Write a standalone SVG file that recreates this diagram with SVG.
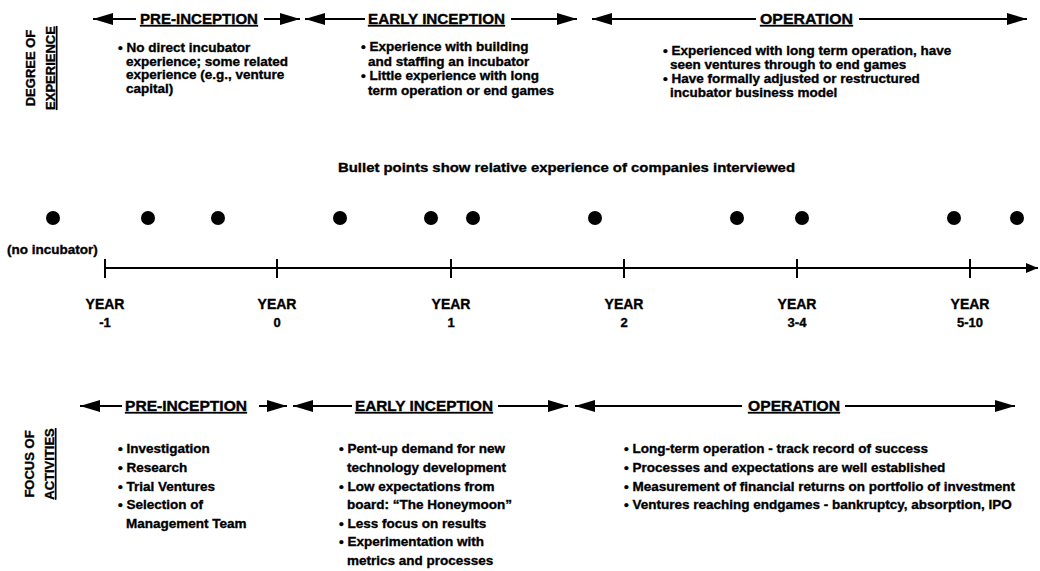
<svg xmlns="http://www.w3.org/2000/svg" width="1040" height="571" viewBox="0 0 1040 571">
  <style>
    text { font-family: "Liberation Sans", Arial, sans-serif; font-weight: bold; fill: #000; stroke: #000; stroke-width: 0.35px; }
    .side { font-size: 13px; text-anchor: middle; }
    .ul { text-decoration: underline; }
    .phase { font-size: 14.5px; text-decoration: underline; }
    .bt { font-size: 13.5px; }
    .yr { font-size: 14px; text-anchor: middle; }
    .num { font-size: 13px; text-anchor: middle; }
    .note { font-size: 13.5px; }
    .span { stroke: #000; stroke-width: 2; fill: none; marker-end: url(#head); }
    .axis { stroke: #000; stroke-width: 2; fill: none; }
    .dot { fill: #000; }
  </style>
  <defs>
    <marker id="head" markerUnits="strokeWidth" markerWidth="10" markerHeight="6" refX="10" refY="3" orient="auto">
      <path d="M0,0 L10,3 L0,6 z" fill="#000"/>
    </marker>
    <marker id="axishead" markerUnits="strokeWidth" markerWidth="6" markerHeight="5" refX="6" refY="2.5" orient="auto">
      <path d="M0,0 L6,2.5 L0,5 z" fill="#000"/>
    </marker>
  </defs>

  <!-- side captions -->
  <g id="caption-experience">
    <text class="side" transform="translate(35,68) rotate(-90)">DEGREE OF</text>
    <text class="side ul" transform="translate(55,68) rotate(-90)">EXPERIENCE</text>
  </g>
  <g id="caption-activities">
    <text class="side" transform="translate(34,464) rotate(-90)">FOCUS OF</text>
    <text class="side ul" transform="translate(54,464) rotate(-90)">ACTIVITIES</text>
  </g>

  <!-- phase spans and the year axis -->
  <g id="connectors">
    <!-- experience row -->
    <line class="span" x1="136" y1="19" x2="93" y2="19"/>
    <line class="span" x1="264" y1="19" x2="300" y2="19"/>
    <line class="span" x1="365" y1="19" x2="305" y2="19"/>
    <line class="span" x1="511" y1="19" x2="577" y2="19"/>
    <line class="span" x1="756" y1="19" x2="592" y2="19"/>
    <line class="span" x1="859" y1="19" x2="1027" y2="19"/>
    <!-- activities row -->
    <line class="span" x1="122" y1="406" x2="80" y2="406"/>
    <line class="span" x1="259" y1="406" x2="287" y2="406"/>
    <line class="span" x1="352" y1="406" x2="293" y2="406"/>
    <line class="span" x1="498" y1="406" x2="568" y2="406"/>
    <line class="span" x1="742" y1="406" x2="575" y2="406"/>
    <line class="span" x1="845" y1="406" x2="1015" y2="406"/>
    <!-- year axis -->
    <line class="axis" x1="105" y1="268" x2="1038" y2="268" marker-end="url(#axishead)"/>
    <path class="axis" d="M105,259 V278 M277,259 V278 M451,259 V278 M624,259 V278 M797,259 V278 M970,259 V278"/>
  </g>

  <!-- phase names -->
  <g id="phase-pre-top"><text class="phase" x="140" y="24" textLength="118" lengthAdjust="spacingAndGlyphs">PRE-INCEPTION</text></g>
  <g id="phase-early-top"><text class="phase" x="368" y="24" textLength="137" lengthAdjust="spacingAndGlyphs">EARLY INCEPTION</text></g>
  <g id="phase-op-top"><text class="phase" x="760" y="24" textLength="93" lengthAdjust="spacingAndGlyphs">OPERATION</text></g>
  <g id="phase-pre-bottom"><text class="phase" x="125" y="411" textLength="122" lengthAdjust="spacingAndGlyphs">PRE-INCEPTION</text></g>
  <g id="phase-early-bottom"><text class="phase" x="355" y="411" textLength="138" lengthAdjust="spacingAndGlyphs">EARLY INCEPTION</text></g>
  <g id="phase-op-bottom"><text class="phase" x="748" y="411" textLength="92" lengthAdjust="spacingAndGlyphs">OPERATION</text></g>

  <!-- experience notes -->
  <g id="exp-pre">
    <text class="bt" x="118" y="52">• No direct incubator</text>
    <text class="bt" x="126" y="65.5">experience; some related</text>
    <text class="bt" x="126" y="79">experience (e.g., venture</text>
    <text class="bt" x="126" y="92.5">capital)</text>
  </g>
  <g id="exp-early">
    <text class="bt" x="361" y="51">• Experience with building</text>
    <text class="bt" x="368" y="65.5">and staffing an incubator</text>
    <text class="bt" x="361" y="80">• Little experience with long</text>
    <text class="bt" x="368" y="94.5">term operation or end games</text>
  </g>
  <g id="exp-op">
    <text class="bt" x="663" y="55">• Experienced with long term operation, have</text>
    <text class="bt" x="670" y="69">seen ventures through to end games</text>
    <text class="bt" x="663" y="83">• Have formally adjusted or restructured</text>
    <text class="bt" x="670" y="97">incubator business model</text>
  </g>

  <!-- company positions -->
  <g id="legend">
    <text class="note" x="338" y="172" textLength="457" lengthAdjust="spacingAndGlyphs">Bullet points show relative experience of companies interviewed</text>
  </g>
  <g id="companies">
    <circle class="dot" cx="53" cy="218" r="7"/>
    <circle class="dot" cx="148" cy="218" r="7"/>
    <circle class="dot" cx="218" cy="218" r="7"/>
    <circle class="dot" cx="340" cy="218" r="7"/>
    <circle class="dot" cx="431" cy="218" r="7"/>
    <circle class="dot" cx="473" cy="218" r="7"/>
    <circle class="dot" cx="595" cy="218" r="7"/>
    <circle class="dot" cx="737" cy="218" r="7"/>
    <circle class="dot" cx="802" cy="218" r="7"/>
    <circle class="dot" cx="954" cy="218" r="7"/>
    <circle class="dot" cx="1017" cy="218" r="7"/>
  </g>
  <g id="no-incubator"><text class="note" x="7" y="254">(no incubator)</text></g>

  <!-- year labels -->
  <g id="year-m1"><text class="yr" x="105" y="309">YEAR</text><text class="num" x="105" y="327">-1</text></g>
  <g id="year-0"><text class="yr" x="277" y="309">YEAR</text><text class="num" x="277" y="327">0</text></g>
  <g id="year-1"><text class="yr" x="451" y="309">YEAR</text><text class="num" x="451" y="327">1</text></g>
  <g id="year-2"><text class="yr" x="624" y="309">YEAR</text><text class="num" x="624" y="327">2</text></g>
  <g id="year-3"><text class="yr" x="797" y="309">YEAR</text><text class="num" x="797" y="327">3-4</text></g>
  <g id="year-5"><text class="yr" x="970" y="309">YEAR</text><text class="num" x="970" y="327">5-10</text></g>

  <!-- activity notes -->
  <g id="act-pre">
    <text class="bt" x="118" y="453">• Investigation</text>
    <text class="bt" x="118" y="471.5">• Research</text>
    <text class="bt" x="118" y="490.5">• Trial Ventures</text>
    <text class="bt" x="118" y="509">• Selection of</text>
    <text class="bt" x="126" y="527.5">Management Team</text>
  </g>
  <g id="act-early">
    <text class="bt" x="339" y="453">• Pent-up demand for new</text>
    <text class="bt" x="347" y="471.5">technology development</text>
    <text class="bt" x="339" y="490.5">• Low expectations from</text>
    <text class="bt" x="347" y="509">board: “The Honeymoon”</text>
    <text class="bt" x="339" y="527.5">• Less focus on results</text>
    <text class="bt" x="339" y="546">• Experimentation with</text>
    <text class="bt" x="347" y="564.5">metrics and processes</text>
  </g>
  <g id="act-op">
    <text class="bt" x="624" y="453">• Long-term operation - track record of success</text>
    <text class="bt" x="624" y="471.5">• Processes and expectations are well established</text>
    <text class="bt" x="624" y="490.5">• Measurement of financial returns on portfolio of investment</text>
    <text class="bt" x="624" y="509">• Ventures reaching endgames - bankruptcy, absorption, IPO</text>
  </g>
</svg>
